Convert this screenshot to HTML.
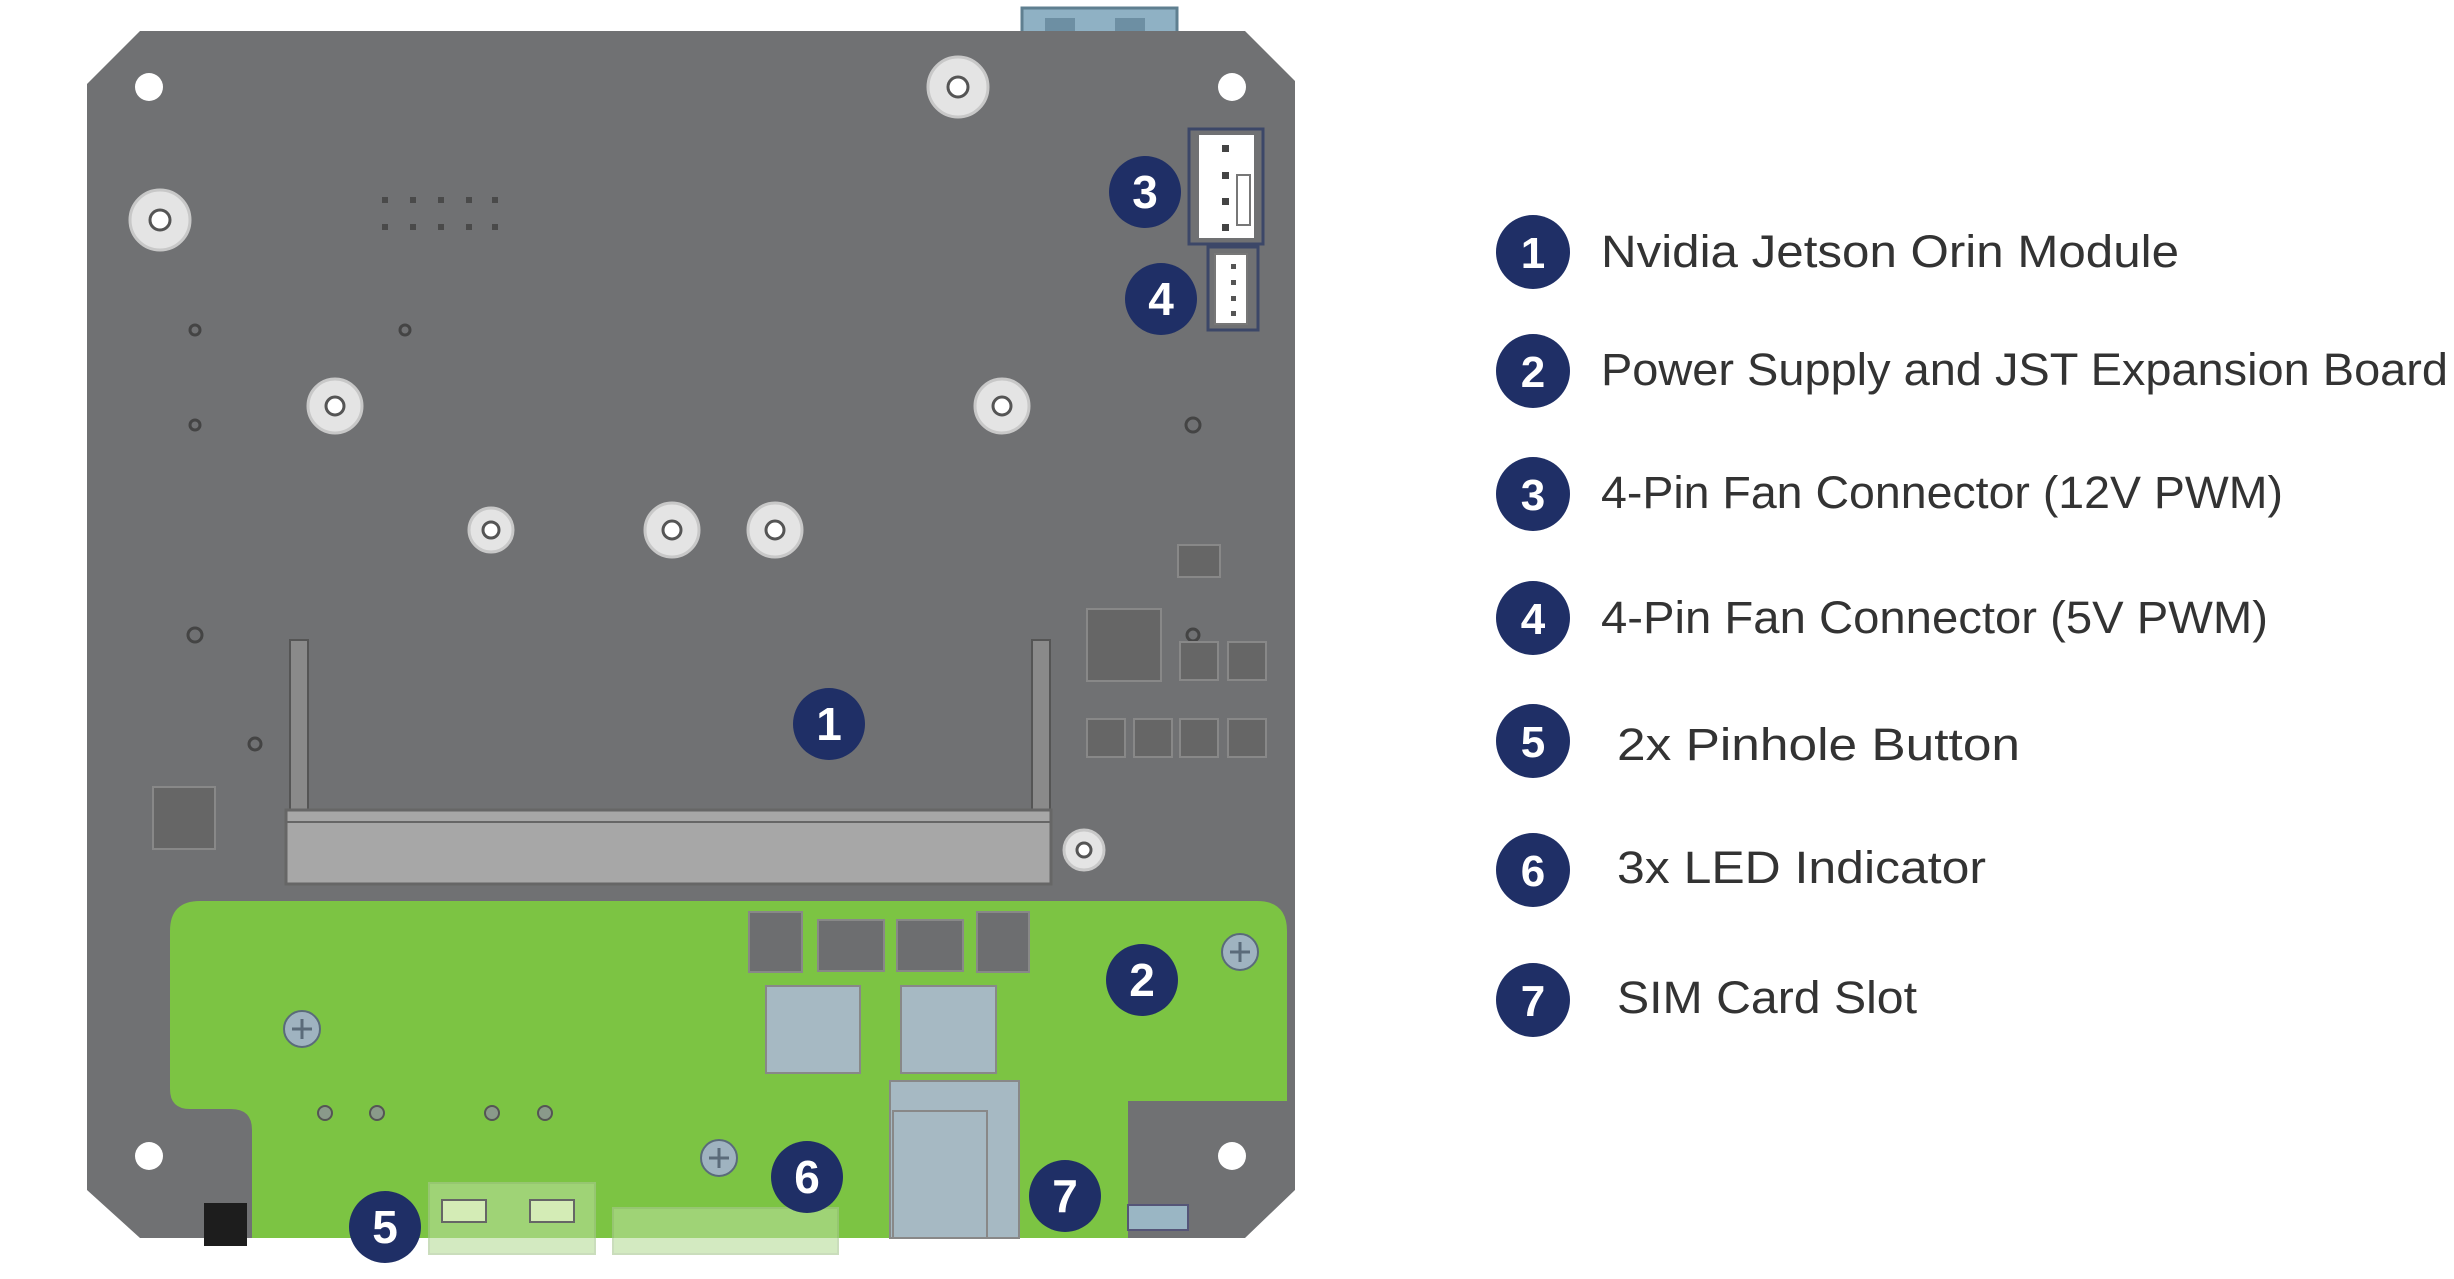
<!DOCTYPE html>
<html><head><meta charset="utf-8"><style>
html,body{margin:0;padding:0;background:#fff;width:2454px;height:1279px;overflow:hidden}
svg{display:block}
.t{font-family:"Liberation Sans",sans-serif;font-size:45px;fill:#333}
.b{font-family:"Liberation Sans",sans-serif;font-weight:bold;fill:#fff;text-anchor:middle}
</style></head><body>
<svg width="2454" height="1279" viewBox="0 0 2454 1279" xmlns="http://www.w3.org/2000/svg">
<rect x="1022" y="8" width="155" height="30" fill="#8fb1c4" stroke="#5f7f90" stroke-width="3"/>
<rect x="1045" y="18" width="30" height="16" fill="#6d8fa3"/><rect x="1115" y="18" width="30" height="16" fill="#6d8fa3"/>
<polygon points="140,31 1245,31 1295,81 1295,1190 1245,1238 140,1238 87,1190 87,84" fill="#707173"/>
<g fill="#fff"><circle cx="149" cy="87" r="14"/><circle cx="1232" cy="87" r="14"/><circle cx="149" cy="1156" r="14"/><circle cx="1232" cy="1156" r="14"/></g>
<g fill="#e4e4e4" stroke="#c8c8c8" stroke-width="3">
<circle cx="958" cy="87" r="30"/><circle cx="160" cy="220" r="30"/><circle cx="335" cy="406" r="27"/><circle cx="1002" cy="406" r="27"/>
<circle cx="491" cy="530" r="22"/><circle cx="672" cy="530" r="27"/><circle cx="775" cy="530" r="27"/><circle cx="1084" cy="850" r="20"/></g>
<g fill="#fff" stroke="#555" stroke-width="3">
<circle cx="958" cy="87" r="10"/><circle cx="160" cy="220" r="10"/><circle cx="335" cy="406" r="9"/><circle cx="1002" cy="406" r="9"/>
<circle cx="491" cy="530" r="8"/><circle cx="672" cy="530" r="9"/><circle cx="775" cy="530" r="9"/><circle cx="1084" cy="850" r="7"/></g>
<g fill="none" stroke="#444" stroke-width="3"><circle cx="195" cy="330" r="5"/><circle cx="405" cy="330" r="5"/><circle cx="195" cy="425" r="5"/><circle cx="195" cy="635" r="7"/><circle cx="255" cy="744" r="6"/><circle cx="1193" cy="425" r="7"/><circle cx="1193" cy="635" r="6"/></g>
<g fill="#4a4a4a"><rect x="382" y="197" width="6" height="6"/><rect x="410" y="197" width="6" height="6"/><rect x="438" y="197" width="6" height="6"/><rect x="466" y="197" width="6" height="6"/><rect x="492" y="197" width="6" height="6"/>
<rect x="382" y="224" width="6" height="6"/><rect x="410" y="224" width="6" height="6"/><rect x="438" y="224" width="6" height="6"/><rect x="466" y="224" width="6" height="6"/><rect x="492" y="224" width="6" height="6"/></g>
<g fill="#666" stroke="#888" stroke-width="2">
<rect x="153" y="787" width="62" height="62"/><rect x="1178" y="545" width="42" height="32"/><rect x="1087" y="609" width="74" height="72"/>
<rect x="1180" y="642" width="38" height="38"/><rect x="1228" y="642" width="38" height="38"/>
<rect x="1087" y="719" width="38" height="38"/><rect x="1134" y="719" width="38" height="38"/><rect x="1180" y="719" width="38" height="38"/><rect x="1228" y="719" width="38" height="38"/></g>
<g fill="#8a8a8a" stroke="#555" stroke-width="2"><rect x="290" y="640" width="18" height="180"/><rect x="1032" y="640" width="18" height="180"/></g>
<rect x="286" y="810" width="765" height="74" fill="#a7a7a7" stroke="#666" stroke-width="3"/>
<line x1="286" y1="822" x2="1051" y2="822" stroke="#666" stroke-width="2"/>
<rect x="1189" y="129" width="74" height="115" fill="none" stroke="#3c4768" stroke-width="3"/>
<rect x="1199" y="135" width="55" height="103" fill="#fff"/>
<rect x="1237" y="175" width="13" height="50" fill="#fff" stroke="#777" stroke-width="2"/>
<g fill="#444"><rect x="1222" y="145" width="7" height="7"/><rect x="1222" y="172" width="7" height="7"/><rect x="1222" y="198" width="7" height="7"/><rect x="1222" y="224" width="7" height="7"/></g>
<rect x="1208" y="247" width="50" height="83" fill="none" stroke="#3c4768" stroke-width="3"/>
<rect x="1215" y="254" width="32" height="70" fill="#fff" stroke="#777" stroke-width="2"/>
<g fill="#555"><rect x="1231" y="264" width="5" height="5"/><rect x="1231" y="280" width="5" height="5"/><rect x="1231" y="296" width="5" height="5"/><rect x="1231" y="311" width="5" height="5"/></g>
<path d="M200,901 L1257,901 Q1287,901 1287,931 L1287,1101 L1128,1101 L1128,1238 L252,1238 L252,1130 Q252,1109 231,1109 L190,1109 Q170,1109 170,1089 L170,931 Q170,901 200,901 Z" fill="#7cc443"/>
<rect x="1128" y="1205" width="60" height="25" fill="#9ab6c4" stroke="#557" stroke-width="2"/>
<rect x="204" y="1203" width="43" height="43" fill="#1d1d1d"/>
<g fill="#6d6e70" stroke="#888" stroke-width="2">
<rect x="749" y="912" width="53" height="60"/><rect x="818" y="920" width="66" height="51"/><rect x="897" y="920" width="66" height="51"/><rect x="977" y="912" width="52" height="60"/></g>
<g fill="#a6b9c3" stroke="#888" stroke-width="2"><rect x="766" y="986" width="94" height="87"/><rect x="901" y="986" width="95" height="87"/>
<rect x="890" y="1081" width="129" height="157"/><rect x="893" y="1111" width="94" height="127"/></g>
<g fill="#9fb3c0" stroke="#5a6b7a" stroke-width="2"><circle cx="302" cy="1029" r="18"/><circle cx="719" cy="1158" r="18"/><circle cx="1240" cy="952" r="18"/></g>
<g stroke="#5a6b7a" stroke-width="3"><path d="M302,1019v20M292,1029h20M719,1148v20M709,1158h20M1240,942v20M1230,952h20"/></g>
<g fill="#8a9a8a" stroke="#555" stroke-width="2"><circle cx="325" cy="1113" r="7"/><circle cx="377" cy="1113" r="7"/><circle cx="492" cy="1113" r="7"/><circle cx="545" cy="1113" r="7"/></g>
<rect x="429" y="1183" width="166" height="71" fill="#b7dd98" opacity="0.6" stroke="#a8c890" stroke-width="2"/>
<rect x="613" y="1208" width="225" height="46" fill="#b7dd98" opacity="0.6" stroke="#a8c890" stroke-width="2"/>
<g fill="#d4ecb6" stroke="#666" stroke-width="2"><rect x="442" y="1200" width="44" height="22"/><rect x="530" y="1200" width="44" height="22"/></g>
<g fill="#1f2f66"><circle cx="829" cy="724" r="36"/><circle cx="1142" cy="980" r="36"/><circle cx="1145" cy="192" r="36"/><circle cx="1161" cy="299" r="36"/><circle cx="385" cy="1227" r="36"/><circle cx="807" cy="1177" r="36"/><circle cx="1065" cy="1196" r="36"/></g>
<g class="b" font-size="46"><text x="829" y="740">1</text><text x="1142" y="996">2</text><text x="1145" y="208">3</text><text x="1161" y="315">4</text><text x="385" y="1243">5</text><text x="807" y="1193">6</text><text x="1065" y="1212">7</text></g>
<g fill="#1f2f66"><circle cx="1533" cy="252" r="37"/><circle cx="1533" cy="371" r="37"/><circle cx="1533" cy="494" r="37"/><circle cx="1533" cy="618" r="37"/><circle cx="1533" cy="741" r="37"/><circle cx="1533" cy="870" r="37"/><circle cx="1533" cy="1000" r="37"/></g>
<g class="b" font-size="44"><text x="1533" y="268">1</text><text x="1533" y="387">2</text><text x="1533" y="510">3</text><text x="1533" y="634">4</text><text x="1533" y="757">5</text><text x="1533" y="886">6</text><text x="1533" y="1016">7</text></g>
<text class="t" x="1601" y="267" textLength="578" lengthAdjust="spacingAndGlyphs">Nvidia Jetson  Orin Module</text>
<text class="t" x="1601" y="385" textLength="847" lengthAdjust="spacingAndGlyphs">Power Supply and JST Expansion Board</text>
<text class="t" x="1601" y="508" textLength="682" lengthAdjust="spacingAndGlyphs">4-Pin Fan Connector (12V PWM)</text>
<text class="t" x="1601" y="633" textLength="667" lengthAdjust="spacingAndGlyphs">4-Pin Fan Connector (5V PWM)</text>
<text class="t" x="1617" y="760" textLength="403" lengthAdjust="spacingAndGlyphs">2x Pinhole Button</text>
<text class="t" x="1617" y="883" textLength="369" lengthAdjust="spacingAndGlyphs">3x LED Indicator</text>
<text class="t" x="1617" y="1013" textLength="300" lengthAdjust="spacingAndGlyphs">SIM Card Slot</text>
</svg>
</body></html>
